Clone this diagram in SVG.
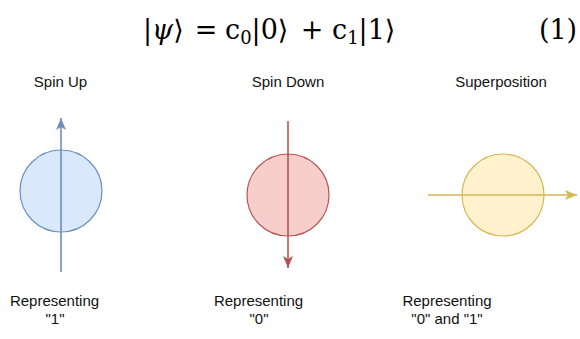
<svg xmlns="http://www.w3.org/2000/svg" width="580" height="339" viewBox="0 0 580 339">
<style>
.eq{font-family:"DejaVu Serif","Liberation Serif",serif;font-size:27px;fill:#000}
.lbl{font-family:"Liberation Sans",Arial,sans-serif;font-size:15px;fill:#111;text-anchor:middle}
.blue{fill:#dae8fc;stroke:#6c8ebf;stroke-width:1.2}
.red{fill:#f8cecc;stroke:#b85450;stroke-width:1.2}
.yel{fill:#fff2cc;stroke:#d6b656;stroke-width:1.2}
</style>
<defs>
<marker id="ab" markerUnits="userSpaceOnUse" markerWidth="14" markerHeight="12" refX="12" refY="5" orient="auto"><path d="M0,0 L12,5 L0,10 L3,5 Z" fill="#6c8ebf"/></marker>
<marker id="ar" markerUnits="userSpaceOnUse" markerWidth="14" markerHeight="12" refX="12" refY="5" orient="auto"><path d="M0,0 L12,5 L0,10 L3,5 Z" fill="#b85450"/></marker>
<marker id="ay" markerUnits="userSpaceOnUse" markerWidth="14" markerHeight="12" refX="12" refY="5" orient="auto"><path d="M0,0 L12,5 L0,10 L3,5 Z" fill="#d6b656"/></marker>
</defs>
<g id="equation">
<text class="eq" x="143" y="39">|<tspan font-style="italic">ψ</tspan>⟩</text>
<text class="eq" x="206" y="39" text-anchor="middle">=</text>
<text class="eq" x="225" y="39">c<tspan font-size="18" dy="5">0</tspan><tspan dy="-5">|0⟩</tspan></text>
<text class="eq" x="312" y="39" text-anchor="middle">+</text>
<text class="eq" x="332" y="39">c<tspan font-size="18" dy="5">1</tspan><tspan dy="-5">|1⟩</tspan></text>
<text class="eq" x="558" y="39" text-anchor="middle">(1)</text>
</g>
<g id="spin-up">
<circle class="blue" cx="61" cy="191" r="41"/>
<text class="lbl" x="60.5" y="87">Spin Up</text>
<text class="lbl" x="54.5" y="306">Representing</text>
<text class="lbl" x="55" y="324">"1"</text>
</g>
<g id="spin-down">
<circle class="red" cx="288" cy="195" r="41"/>
<text class="lbl" x="288" y="87">Spin Down</text>
<text class="lbl" x="258.5" y="306">Representing</text>
<text class="lbl" x="259" y="324">"0"</text>
</g>
<g id="superposition">
<circle class="yel" cx="503" cy="195" r="41"/>
<text class="lbl" x="501" y="87">Superposition</text>
<text class="lbl" x="447" y="306">Representing</text>
<text class="lbl" x="447" y="324">"0" and "1"</text>
</g>
<g id="connectors" fill="none" stroke-width="1.6">
<line x1="61" y1="272" x2="61" y2="118" stroke="#6c8ebf" marker-end="url(#ab)"/>
<line x1="288" y1="121" x2="288" y2="268" stroke="#b85450" marker-end="url(#ar)"/>
<line x1="428" y1="195" x2="577" y2="195" stroke="#d6b656" marker-end="url(#ay)"/>
</g>
</svg>
